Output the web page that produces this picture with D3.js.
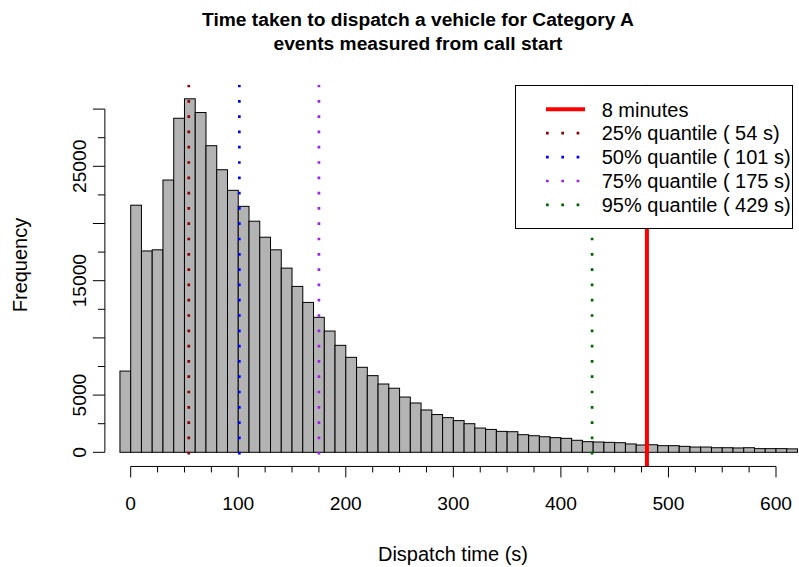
<!DOCTYPE html>
<html>
<head>
<meta charset="utf-8">
<script src="https://cdn.jsdelivr.net/npm/d3@7/dist/d3.min.js"></script>
<style>
  html, body { margin: 0; padding: 0; background: #ffffff; }
  svg { display: block; font-family: "Liberation Sans", Arial, Helvetica, sans-serif; }
</style>
</head>
<body>
<svg id="chart" width="799" height="567"></svg>
<script>
// Histogram bins: lower edge of each 10-second bin (seconds)
const binStarts = [-10, 0, 10, 20, 30, 40, 50, 60, 70, 80, 90, 100, 110, 120, 130, 140, 150,
  160, 170, 180, 190, 200, 210, 220, 230, 240, 250, 260, 270, 280, 290, 300, 310, 320, 330,
  340, 350, 360, 370, 380, 390, 400, 410, 420, 430, 440, 450, 460, 470, 480, 490, 500, 510,
  520, 530, 540, 550, 560, 570, 580, 590, 600, 610];
const binWidth = 10;
// Number of events in each bin
const counts = [7100, 21600, 17600, 17700, 23800, 29200, 30900, 29700, 26800, 24700, 22900,
  21500, 20200, 18800, 17700, 16100, 14500, 13100, 11800, 10600, 9350, 8300, 7430, 6700,
  5970, 5600, 4830, 4310, 3700, 3300, 3030, 2770, 2500, 2120, 2000, 1830, 1800, 1540, 1450,
  1360, 1280, 1220, 1050, 930, 900, 870, 840, 730, 640, 660, 580, 580, 520, 460, 460, 400,
  400, 380, 400, 320, 320, 320, 300];

// Reference lines
const targetSeconds = 480;
const quantileLabels = ["25%", "50%", "75%", "95%"];
const quantileValues = [54, 101, 175, 429];
const quantileColors = ["#8B0000", "#0000FF", "#A020F0", "#006400"];

// Axis ticks
const xTickValues = [0, 25, 50, 75, 100, 125, 150, 175, 200, 225, 250, 275, 300, 325, 350,
  375, 400, 425, 450, 475, 500, 525, 550, 575, 600];
const xLabelValues = [0, 100, 200, 300, 400, 500, 600];
const yTickValues = [0, 2500, 5000, 7500, 10000, 12500, 15000, 17500, 20000, 22500, 25000,
  27500, 30000];
const yLabelValues = [0, 5000, 15000, 25000];

const titleLines = ["Time taken to dispatch a vehicle for Category A",
  "events measured from call start"];
const xTitle = "Dispatch time (s)";
const yTitle = "Frequency";

const svg = d3.select("#chart");
const FS = 19.2;     // tick labels and title
const FS_LAB = 20;   // axis titles and legend

const x = d3.scaleLinear().domain([0, 600]).range([130.7, 776]);
const y = d3.scaleLinear().domain([0, 30000]).range([452.3, 109.1]);

// plot region with the usual 4% padding
const yMax = d3.max(counts);
const plotTop = y(yMax * 1.04);
const plotBottom = y(-yMax * 0.04);
const plotLeft = x(-24);
const plotRight = x(624);

svg.append("defs").append("clipPath").attr("id", "plotclip")
  .append("rect")
  .attr("x", plotLeft).attr("y", plotTop)
  .attr("width", plotRight - plotLeft).attr("height", plotBottom - plotTop);

const plot = svg.append("g").attr("clip-path", "url(#plotclip)");

// bars
plot.selectAll("rect.bar")
  .data(counts)
  .enter().append("rect")
  .attr("class", "bar")
  .attr("x", (d, i) => x(binStarts[i]))
  .attr("width", (d, i) => x(binStarts[i] + binWidth) - x(binStarts[i]))
  .attr("y", d => y(d))
  .attr("height", d => y(0) - y(d))
  .attr("fill", "#B3B3B3")
  .attr("stroke", "#000")
  .attr("stroke-width", 1);

// quantile lines (dotted)
plot.selectAll("line.q")
  .data(quantileValues)
  .enter().append("line")
  .attr("class", "q")
  .attr("x1", d => x(d)).attr("x2", d => x(d))
  .attr("y1", plotTop).attr("y2", plotBottom + 1.5)
  .attr("stroke", (d, i) => quantileColors[i])
  .attr("stroke-width", 2.7)
  .attr("stroke-dasharray", "2.7 12.6");

// target line
plot.append("line")
  .attr("x1", x(targetSeconds)).attr("x2", x(targetSeconds))
  .attr("y1", plotTop).attr("y2", plotBottom)
  .attr("stroke", "#FF0000")
  .attr("stroke-width", 4);

// x axis
const xAxisG = svg.append("g").attr("transform", `translate(0,${plotBottom})`);
xAxisG.append("line")
  .attr("x1", x(0)).attr("x2", x(600))
  .attr("stroke", "#000").attr("stroke-width", 1);
xAxisG.selectAll("line.tick")
  .data(xTickValues)
  .enter().append("line")
  .attr("class", "tick")
  .attr("x1", d => x(d)).attr("x2", d => x(d))
  .attr("y1", 0)
  .attr("y2", d => xLabelValues.includes(d) ? 11 : 6)
  .attr("stroke", "#000").attr("stroke-width", 1);
xAxisG.selectAll("text")
  .data(xLabelValues)
  .enter().append("text")
  .attr("x", d => x(d))
  .attr("y", 510 - plotBottom)
  .attr("text-anchor", "middle")
  .attr("font-size", FS)
  .attr("fill", "#000")
  .text(d => d);

// y axis
const yAxisG = svg.append("g").attr("transform", `translate(${plotLeft},0)`);
yAxisG.append("line")
  .attr("y1", y(0)).attr("y2", y(30000))
  .attr("stroke", "#000").attr("stroke-width", 1);
yAxisG.selectAll("line.tick")
  .data(yTickValues)
  .enter().append("line")
  .attr("class", "tick")
  .attr("y1", d => y(d)).attr("y2", d => y(d))
  .attr("x1", 0)
  .attr("x2", d => d % 5000 === 0 ? -12 : -7)
  .attr("stroke", "#000").attr("stroke-width", 1);
yAxisG.selectAll("text")
  .data(yLabelValues)
  .enter().append("text")
  .attr("transform", d => `translate(${86 - plotLeft},${y(d)}) rotate(-90)`)
  .attr("text-anchor", "middle")
  .attr("font-size", FS)
  .attr("fill", "#000")
  .text(d => d);

// titles
svg.selectAll("text.title")
  .data(titleLines)
  .enter().append("text")
  .attr("class", "title")
  .attr("x", 418)
  .attr("y", (d, i) => 25.5 + i * 24.5)
  .attr("text-anchor", "middle")
  .attr("font-size", FS)
  .attr("font-weight", "bold")
  .attr("fill", "#000")
  .text(d => d);

svg.append("text")
  .attr("x", 453).attr("y", 561)
  .attr("text-anchor", "middle")
  .attr("font-size", FS_LAB)
  .attr("fill", "#000")
  .text(xTitle);

svg.append("text")
  .attr("transform", "translate(27.3,265) rotate(-90)")
  .attr("text-anchor", "middle")
  .attr("font-size", FS_LAB)
  .attr("fill", "#000")
  .text(yTitle);

// legend
const legendItems = [{ label: "8 minutes", color: "#FF0000", dotted: false }]
  .concat(quantileLabels.map((q, i) => ({
    label: `${q} quantile ( ${quantileValues[i]} s)`,
    color: quantileColors[i],
    dotted: true
  })));

const legend = svg.append("g");
legend.append("rect")
  .attr("x", 515.5).attr("y", 85.5)
  .attr("width", 277).attr("height", 143)
  .attr("fill", "#fff")
  .attr("stroke", "#000").attr("stroke-width", 1);

const rowY = i => 109.3 + i * 23.9;
legend.selectAll("line.key")
  .data(legendItems)
  .enter().append("line")
  .attr("class", "key")
  .attr("x1", 546).attr("x2", 585)
  .attr("y1", (d, i) => rowY(i)).attr("y2", (d, i) => rowY(i))
  .attr("stroke", d => d.color)
  .attr("stroke-width", d => d.dotted ? 2.7 : 4)
  .attr("stroke-dasharray", d => d.dotted ? "2.7 12.6" : null);

legend.selectAll("text")
  .data(legendItems)
  .enter().append("text")
  .attr("x", 601.7)
  .attr("y", (d, i) => rowY(i) + 7.2)
  .attr("font-size", FS_LAB)
  .attr("fill", "#000")
  .text(d => d.label);
</script>
</body>
</html>
